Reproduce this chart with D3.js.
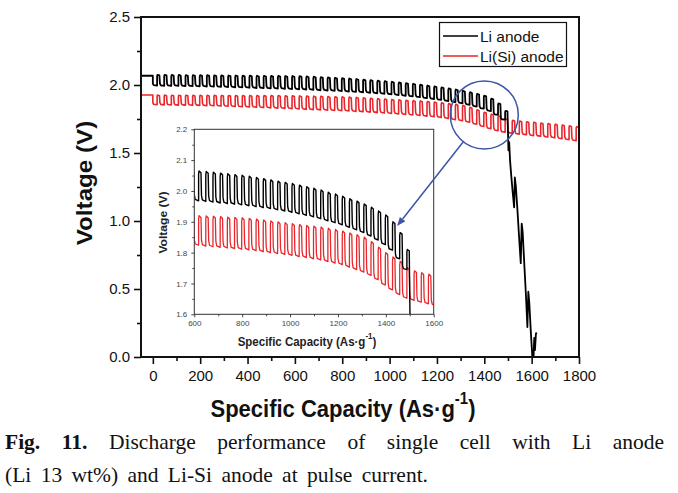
<!DOCTYPE html>
<html><head><meta charset="utf-8">
<script src="https://cdn.jsdelivr.net/npm/d3@7"></script>
<style>html,body{margin:0;padding:0;background:#fff;} svg{display:block;}</style>
</head><body>
<svg id="chart" width="678" height="493"></svg>
<script>
// ---------------- data ----------------
const seriesNames = ["Li anode", "Li(Si) anode"];
const xTicks = [0, 200, 400, 600, 800, 1000, 1200, 1400, 1600, 1800];
const xMinorTicks = [100, 300, 500, 700, 900, 1100, 1300, 1500, 1700];
const yTicks = [0.0, 0.5, 1.0, 1.5, 2.0, 2.5];
const yMinorTicks = [0.25, 0.75, 1.25, 1.75, 2.25];
const insetXTicks = [600, 800, 1000, 1200, 1400, 1600];
const insetXMinorTicks = [700, 900, 1100, 1300, 1500];
const insetYTicks = [1.6, 1.7, 1.8, 1.9, 2.0, 2.1, 2.2];
const insetYMinorTicks = [1.65, 1.75, 1.85, 1.95, 2.05, 2.15];

// Li anode: open-circuit rest, then pulse cycles (start, peak, low), then collapse
const liRest = [-50, 2.068];
const liCycleStart = [0,30,60,90,120,150,180,210,240,270,300,330,360,390,420,450,480,510,540,570,
  600,630,660,690,720,750,780,810,840,870,900,930,960,990,1020,1050,1080,1110,1140,1170,
  1200,1230,1260,1290,1320,1350,1380,1410,1440,1470];
const liPeak = [2.075,2.075,2.074,2.074,2.073,2.073,2.072,2.072,2.071,2.071,
  2.070,2.070,2.069,2.069,2.068,2.068,2.067,2.067,2.066,2.066,
  2.065,2.063,2.061,2.058,2.056,2.053,2.051,2.048,2.044,2.040,
  2.036,2.032,2.028,2.024,2.019,2.014,2.009,2.003,1.996,1.990,
  1.983,1.975,1.967,1.958,1.947,1.935,1.922,1.900,1.865,1.810];
const liLow = [1.995,1.994,1.993,1.993,1.992,1.991,1.990,1.989,1.988,1.986,
  1.985,1.983,1.982,1.980,1.978,1.977,1.975,1.974,1.972,1.970,
  1.968,1.966,1.964,1.961,1.959,1.957,1.955,1.952,1.949,1.946,
  1.943,1.939,1.935,1.931,1.926,1.921,1.916,1.910,1.903,1.897,
  1.890,1.882,1.874,1.865,1.854,1.841,1.826,1.808,1.780,1.745];
const liCrashX = [1500,1502,1505,1509,1514,1520,1526,1529,1533,1540,1547,1554,1558,1562,1569,1576,1582,1586,1590,1597,1603,1608,1611,1614,1618,1621];
const liCrashV = [1.66,1.52,1.58,1.44,1.33,1.21,1.10,1.32,1.26,1.08,0.88,0.69,0.98,0.92,0.68,0.45,0.22,0.48,0.40,0.17,0.00,0.00,0.14,0.05,0.17,0.18];

// Li(Si) anode
const siRest = [-50, 1.926];
const siCycleStart = [0,30,60,90,120,150,180,210,240,270,300,330,360,390,420,450,480,510,540,570,
  600,630,660,690,720,750,780,810,840,870,900,930,960,990,1020,1050,1080,1110,1140,1170,
  1200,1230,1260,1290,1320,1350,1380,1410,1440,1470,1500,1530,1560,1590,1620,1650,1680,1710,1740,1770];
const siPeak = [1.926,1.926,1.925,1.925,1.925,1.924,1.924,1.924,1.924,1.923,
  1.923,1.923,1.923,1.923,1.922,1.922,1.922,1.922,1.921,1.921,
  1.920,1.919,1.918,1.917,1.915,1.914,1.913,1.911,1.909,1.906,
  1.903,1.900,1.897,1.894,1.891,1.888,1.886,1.883,1.879,1.875,
  1.870,1.864,1.858,1.850,1.836,1.818,1.800,1.786,1.772,1.751,
  1.741,1.735,1.730,1.727,1.721,1.717,1.712,1.706,1.700,1.694];
const siLow = [1.855,1.854,1.853,1.852,1.852,1.851,1.850,1.848,1.847,1.845,
  1.844,1.842,1.840,1.838,1.836,1.834,1.832,1.830,1.828,1.826,
  1.824,1.821,1.819,1.817,1.815,1.813,1.811,1.809,1.806,1.803,
  1.800,1.797,1.794,1.791,1.787,1.784,1.780,1.776,1.771,1.766,
  1.761,1.753,1.745,1.737,1.726,1.712,1.695,1.679,1.664,1.652,
  1.645,1.639,1.634,1.628,1.623,1.617,1.612,1.605,1.598,1.590];

// highlighted region (main chart) and the point it maps to (inset)
const highlightCenter = [1400, 1.78];
const arrowTarget = [1447, 1.886];

const captionLine1 = [["Fig.", true], ["11.", true], ["Discharge", false], ["performance", false], ["of", false],
  ["single", false], ["cell", false], ["with", false], ["Li", false], ["anode", false]];
const captionLine2 = ["(Li", "13", "wt%)", "and", "Li-Si", "anode", "at", "pulse", "current."];

// ---------------- helpers ----------------
function buildTrace(rest, starts, peaks, lows) {
  const pts = [[rest[0], rest[1]], [starts[0], rest[1]]];
  starts.forEach((s, i) => {
    const P = i < starts.length - 1 ? starts[i + 1] - s : s - starts[i - 1];
    const L = lows[i], H = peaks[i], A = H - L;
    pts.push([s, L + 0.2 * A]);
    pts.push([s + 0.12 * P, L + 0.05 * A]);
    pts.push([s + 0.6 * P, L]);
    pts.push([s + 0.6 * P, H - 0.12 * A]);
    pts.push([s + 0.66 * P, H]);
    pts.push([s + 0.93 * P, H - 0.06 * A]);
  });
  return pts;
}
const liTrace = buildTrace(liRest, liCycleStart, liPeak, liLow)
  .concat(liCrashX.map((x, i) => [x, liCrashV[i]]));
const siTrace = buildTrace(siRest, siCycleStart, siPeak, siLow);

const FONT = "'Liberation Sans', Arial, Helvetica, sans-serif";
const SERIF = "'Liberation Serif', 'Times New Roman', Times, serif";
const RED = "#e8262b";
const BLUE = "#3b56a5";

const svg = d3.select("#chart");
const defs = svg.append("defs");

// ---------------- main chart ----------------
const M = {l: 141, r: 579, t: 17, b: 357};
const x = d3.scaleLinear().domain([-50, 1800]).range([M.l, M.r]);
const y = d3.scaleLinear().domain([0, 2.5]).range([M.b, M.t]);

defs.append("clipPath").attr("id", "clipMain").append("rect")
  .attr("x", M.l).attr("y", M.t).attr("width", M.r - M.l).attr("height", M.b - M.t);

const line = d3.line().x(d => x(d[0])).y(d => y(d[1]));
const gLines = svg.append("g").attr("clip-path", "url(#clipMain)");
gLines.append("path").attr("d", line(siTrace)).attr("fill", "none")
  .attr("stroke", RED).attr("stroke-width", 1.6).attr("stroke-linejoin", "round");
gLines.append("path").attr("d", line(liTrace)).attr("fill", "none")
  .attr("stroke", "#000").attr("stroke-width", 1.8).attr("stroke-linejoin", "round");

function styleAxis(g, fs, color) {
  g.select(".domain").remove();
  g.selectAll("line").attr("stroke", color).attr("stroke-width", fs > 10 ? 1.6 : 1);
  g.selectAll("text").attr("font-family", FONT).attr("font-size", fs).attr("fill", color);
}
svg.append("g").attr("transform", `translate(0,${M.b})`)
  .call(d3.axisBottom(x).tickValues(xTicks).tickSize(7).tickPadding(6).tickFormat(d3.format("d")))
  .call(g => styleAxis(g, 15, "#111"));
svg.append("g").attr("transform", `translate(0,${M.b})`)
  .call(d3.axisBottom(x).tickValues(xMinorTicks).tickSize(4).tickFormat(""))
  .call(g => styleAxis(g, 15, "#111"));
svg.append("g").attr("transform", `translate(${M.l},0)`)
  .call(d3.axisLeft(y).tickValues(yTicks).tickSize(7).tickPadding(4).tickFormat(d3.format(".1f")))
  .call(g => styleAxis(g, 15, "#111"));
svg.append("g").attr("transform", `translate(${M.l},0)`)
  .call(d3.axisLeft(y).tickValues(yMinorTicks).tickSize(4).tickFormat(""))
  .call(g => styleAxis(g, 15, "#111"));

svg.append("rect").attr("x", M.l).attr("y", M.t).attr("width", M.r - M.l).attr("height", M.b - M.t)
  .attr("fill", "none").attr("stroke", "#111").attr("stroke-width", 2);

// axis titles
const xt = svg.append("text").attr("transform", "translate(343,417) scale(1,1.1)")
  .attr("text-anchor", "middle").attr("font-family", FONT).attr("font-weight", "bold")
  .attr("font-size", 22).attr("fill", "#111");
xt.append("tspan").text("Specific Capacity (As\u00b7g");
xt.append("tspan").attr("font-size", 15).attr("dy", -12).text("-1");
xt.append("tspan").attr("dy", 12).text(")");

svg.append("text").attr("transform", "translate(92,183) scale(1,1.1) rotate(-90)")
  .attr("text-anchor", "middle").attr("font-family", FONT).attr("font-weight", "bold")
  .attr("font-size", 22).attr("fill", "#111").text("Voltage (V)");

// legend
const lg = svg.append("g");
lg.append("rect").attr("x", 439.5).attr("y", 22.5).attr("width", 127).attr("height", 44)
  .attr("fill", "#fff").attr("stroke", "#111").attr("stroke-width", 1.2);
[["#000", seriesNames[0], 36], [RED, seriesNames[1], 56]].forEach(([c, t, yy]) => {
  lg.append("line").attr("x1", 443).attr("x2", 478).attr("y1", yy).attr("y2", yy)
    .attr("stroke", c).attr("stroke-width", 1.5);
  lg.append("text").attr("x", 480).attr("y", yy + 5.5).attr("font-family", FONT)
    .attr("font-size", 15.5).attr("fill", "#111").text(t);
});

// ---------------- inset ----------------
const I = {l: 194.3, r: 433.7, t: 129.3, b: 314.3};
const xi = d3.scaleLinear().domain([600, 1600]).range([I.l, I.r]);
const yi = d3.scaleLinear().domain([1.6, 2.2]).range([I.b, I.t]);
svg.append("rect").attr("x", I.l).attr("y", I.t).attr("width", I.r - I.l).attr("height", I.b - I.t)
  .attr("fill", "#fff");
defs.append("clipPath").attr("id", "clipInset").append("rect")
  .attr("x", I.l).attr("y", I.t).attr("width", I.r - I.l).attr("height", I.b - I.t);
const lineI = d3.line().x(d => xi(d[0])).y(d => yi(d[1]));
const gi = svg.append("g").attr("clip-path", "url(#clipInset)");
gi.append("path").attr("d", lineI(siTrace)).attr("fill", "none")
  .attr("stroke", RED).attr("stroke-width", 1.3).attr("stroke-linejoin", "round");
gi.append("path").attr("d", lineI(liTrace)).attr("fill", "none")
  .attr("stroke", "#000").attr("stroke-width", 1.4).attr("stroke-linejoin", "round");

svg.append("g").attr("transform", `translate(0,${I.b})`)
  .call(d3.axisBottom(xi).tickValues(insetXTicks).tickSize(3).tickPadding(3).tickFormat(d3.format("d")))
  .call(g => styleAxis(g, 8, "#444"));
svg.append("g").attr("transform", `translate(0,${I.b})`)
  .call(d3.axisBottom(xi).tickValues(insetXMinorTicks).tickSize(2).tickFormat(""))
  .call(g => styleAxis(g, 8, "#444"));
svg.append("g").attr("transform", `translate(${I.l},0)`)
  .call(d3.axisLeft(yi).tickValues(insetYTicks).tickSize(3).tickPadding(4).tickFormat(d3.format(".1f")))
  .call(g => styleAxis(g, 8, "#444"));
svg.append("g").attr("transform", `translate(${I.l},0)`)
  .call(d3.axisLeft(yi).tickValues(insetYMinorTicks).tickSize(2).tickFormat(""))
  .call(g => styleAxis(g, 8, "#444"));
svg.append("rect").attr("x", I.l).attr("y", I.t).attr("width", I.r - I.l).attr("height", I.b - I.t)
  .attr("fill", "none").attr("stroke", "#333").attr("stroke-width", 1);

const xti = svg.append("text").attr("transform", "translate(307,346) scale(1,1.1)")
  .attr("text-anchor", "middle").attr("font-family", FONT).attr("font-weight", "bold")
  .attr("font-size", 11.5).attr("fill", "#222");
xti.append("tspan").text("Specific Capacity (As\u00b7g");
xti.append("tspan").attr("font-size", 8).attr("dy", -6).text("-1");
xti.append("tspan").attr("dy", 6).text(")");
svg.append("text").attr("transform", "translate(167,222.5) scale(1,1.1) rotate(-90)")
  .attr("text-anchor", "middle").attr("font-family", FONT).attr("font-weight", "bold")
  .attr("font-size", 11).attr("fill", "#222").text("Voltage (V)");

// ---------------- highlight circle + arrow ----------------
const cx = x(highlightCenter[0]), cy = y(highlightCenter[1]), R = 34;
svg.append("circle").attr("cx", cx).attr("cy", cy).attr("r", R)
  .attr("fill", "none").attr("stroke", BLUE).attr("stroke-width", 1.5);
const tx = xi(arrowTarget[0]), ty = yi(arrowTarget[1]);
const dx = tx - cx, dy = ty - cy, len = Math.hypot(dx, dy), ux = dx / len, uy = dy / len;
const sx = cx + ux * R, sy = cy + uy * R;
const headL = 9, headW = 3.5;
const bx = tx - ux * headL, by = ty - uy * headL;
svg.append("line").attr("x1", sx).attr("y1", sy).attr("x2", bx).attr("y2", by)
  .attr("stroke", BLUE).attr("stroke-width", 1.5);
svg.append("path").attr("d", `M${tx},${ty}L${bx - uy * headW},${by + ux * headW}L${bx + uy * headW},${by - ux * headW}Z`)
  .attr("fill", BLUE);

// ---------------- caption ----------------
function placeWords(words, x0, x1, baseline) {
  const g = svg.append("g");
  const nodes = words.map(([w, b]) => g.append("text").attr("y", baseline)
    .attr("font-family", SERIF).attr("font-size", 21.5).attr("fill", "#111")
    .attr("font-weight", b ? "bold" : "normal").text(w));
  const widths = nodes.map(n => n.node().getComputedTextLength());
  const total = d3.sum(widths);
  const gap = (x1 - x0 - total) / (words.length - 1);
  let cur = x0;
  nodes.forEach((n, i) => { n.attr("x", cur); cur += widths[i] + gap; });
}
placeWords(captionLine1, 5, 664, 449);
placeWords(captionLine2.map(w => [w, false]), 5, 428, 482);
</script>
</body></html>
